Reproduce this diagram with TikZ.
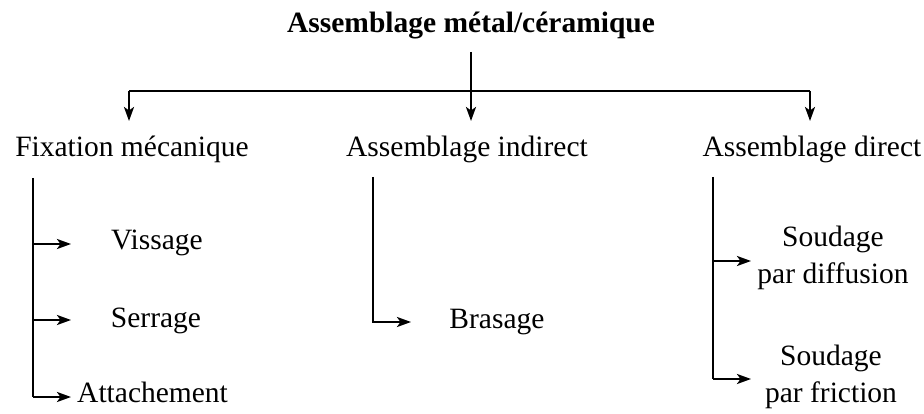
\documentclass[tikz,border=0pt]{standalone}
\usepackage{fontspec}
\setmainfont{Liberation Serif}
\usetikzlibrary{arrows.meta}
\begin{document}
\begin{tikzpicture}[x=1pt,y=-1pt,
  lbl/.style={inner sep=0pt,font=\fontsize{29.5}{37}\selectfont},
  ttl/.style={inner sep=0pt,font=\fontsize{29.5}{37}\selectfont\bfseries},
  conn/.style={line width=2.3pt},
  arr/.style={line width=2.3pt,-{Stealth[length=14pt,width=10pt,inset=3.5pt]}}]
\useasboundingbox (0,0) rectangle (924,414);
\node[ttl,anchor=base] (title) at (471,33) {Assemblage métal/céramique};
\coordinate (t0) at (471,52);
\coordinate (hm) at (471,91);
\coordinate (hl) at (129,91);
\coordinate (hr) at (810,91);
\node[lbl,anchor=base] (fix) at (132,157) {Fixation mécanique};
\node[lbl,anchor=base] (ind) at (467,157) {Assemblage indirect};
\node[lbl,anchor=base] (dir) at (812,157) {Assemblage direct};
\draw[conn] (t0) -- (hm);
\draw[conn] (hl) -- (hr);
\draw[arr] (hl) -- (129,121);
\draw[arr] (hm) -- (471,121);
\draw[arr] (hr) -- (810,121);
% left
\coordinate (l0) at (33,178);
\node[lbl,anchor=base] (vis) at (157,250) {Vissage};
\node[lbl,anchor=base] (ser) at (156,327) {Serrage};
\node[lbl,anchor=base west] (att) at (77,402) {Attachement};
\draw[conn] (l0) -- (33,397);
\draw[arr] (33,244) -- (71,244);
\draw[arr] (33,320) -- (71,320);
\draw[arr] (33,397) -- (71,397);
% middle
\coordinate (m0) at (373,177);
\node[lbl,anchor=base] (bra) at (497,328) {Brasage};
\draw[arr] (m0) |- (411,322);
% right
\coordinate (r0) at (713,177);
\node[lbl,align=center] (sd) at (833,258) {Soudage\\par diffusion};
\node[lbl,align=center] (sf) at (831,377) {Soudage\\par friction};
\draw[conn] (r0) -- (713,379);
\draw[arr] (713,261) -- (751,261);
\draw[arr] (713,379) -- (751,379);
\end{tikzpicture}
\end{document}
